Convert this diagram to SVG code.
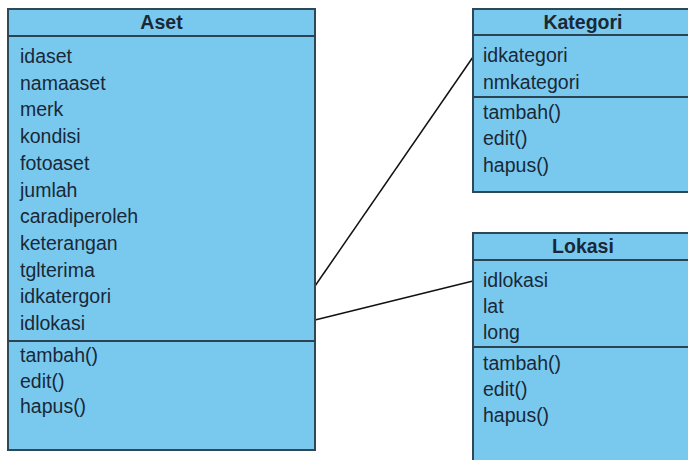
<svg xmlns="http://www.w3.org/2000/svg" width="688" height="460" viewBox="0 0 688 460">
<style>
.box{fill:#79c9ef;stroke:#2f4858;stroke-width:2}
.sep{stroke:#2a4252;stroke-width:2}
.t{font-family:"Liberation Sans",Arial,sans-serif;font-size:19.5px;fill:#1a2836}
.h{font-family:"Liberation Sans",Arial,sans-serif;font-size:19.5px;font-weight:bold;fill:#1a2836;text-anchor:middle}
.c{stroke:#111;stroke-width:1.5;fill:none}
</style>
<rect width="688" height="460" fill="#fff"/>
<g id="connectors">
<line class="c" x1="315" y1="286" x2="473" y2="57"/>
<line class="c" x1="315" y1="320" x2="473" y2="281"/>
</g>
<g id="aset">
<rect class="box" x="8" y="9" width="307" height="441"/>
<line class="sep" x1="8" y1="36" x2="315" y2="36"/>
<line class="sep" x1="8" y1="341" x2="315" y2="341"/>
<text class="h" x="161.5" y="29">Aset</text>
<text class="t" x="20" y="63">idaset</text>
<text class="t" x="20" y="89.7">namaaset</text>
<text class="t" x="20" y="116.4">merk</text>
<text class="t" x="20" y="143.1">kondisi</text>
<text class="t" x="20" y="169.8">fotoaset</text>
<text class="t" x="20" y="196.5">jumlah</text>
<text class="t" x="20" y="223.2">caradiperoleh</text>
<text class="t" x="20" y="249.9">keterangan</text>
<text class="t" x="20" y="276.6">tglterima</text>
<text class="t" x="20" y="303.3">idkatergori</text>
<text class="t" x="20" y="330">idlokasi</text>
<text class="t" x="20" y="362">tambah()</text>
<text class="t" x="20" y="388">edit()</text>
<text class="t" x="20" y="413">hapus()</text>
</g>
<g id="kategori">
<rect class="box" x="473" y="9" width="220" height="183"/>
<line class="sep" x1="473" y1="35" x2="693" y2="35"/>
<line class="sep" x1="473" y1="97" x2="693" y2="97"/>
<text class="h" x="583" y="29">Kategori</text>
<text class="t" x="483" y="62">idkategori</text>
<text class="t" x="483" y="89">nmkategori</text>
<text class="t" x="483" y="119">tambah()</text>
<text class="t" x="483" y="145">edit()</text>
<text class="t" x="483" y="171.5">hapus()</text>
</g>
<g id="lokasi">
<rect class="box" x="473" y="233" width="220" height="240"/>
<line class="sep" x1="473" y1="260" x2="693" y2="260"/>
<line class="sep" x1="473" y1="347" x2="693" y2="347"/>
<text class="h" x="583" y="253">Lokasi</text>
<text class="t" x="483" y="287">idlokasi</text>
<text class="t" x="483" y="313">lat</text>
<text class="t" x="483" y="339">long</text>
<text class="t" x="483" y="370">tambah()</text>
<text class="t" x="483" y="396">edit()</text>
<text class="t" x="483" y="422">hapus()</text>
</g>
</svg>
